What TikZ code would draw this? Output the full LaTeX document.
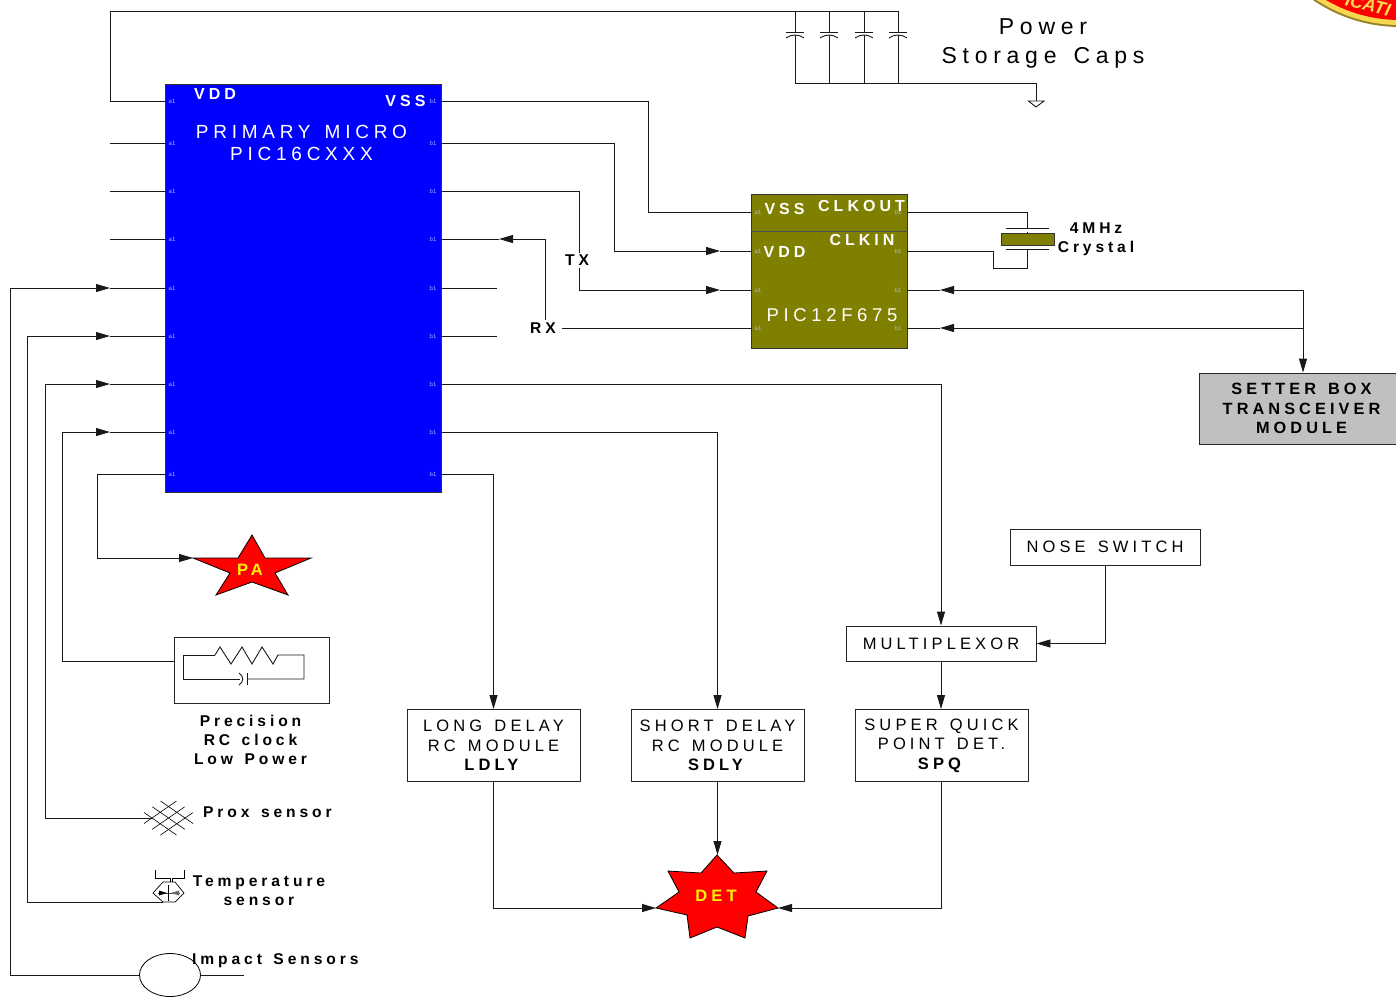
\documentclass[tikz,border=0pt]{standalone}
\usepackage{fontspec}
\setmainfont{Liberation Sans}
\newfontfamily\spacedfont[LetterSpace=25,WordSpace=1.4]{Liberation Sans}
\usetikzlibrary{positioning,arrows.meta,calc,shapes.geometric}
\definecolor{picolive}{RGB}{128,128,0}
\definecolor{setgray}{RGB}{192,192,192}
\definecolor{badgerim}{RGB}{150,130,40}
\definecolor{badgegold}{RGB}{245,215,80}

\begin{document}
\begin{tikzpicture}[
  x=1pt, y=-1pt,
  font=\spacedfont,
  >={Triangle[length=14pt,width=8pt]},
  wire/.style={draw=black!90, line width=0.9pt},
  arrow/.style={wire, ->},
  blockbox/.style={draw=black!85, line width=0.9pt, inner sep=0pt, align=center,
    font=\fontsize{16.5}{19.5}\selectfont\spacedfont, fill=white},
  chipbox/.style={draw=black!80, line width=0.9pt, inner sep=0pt},
  plain/.style={inner sep=0pt, align=center},
  biglabel/.style={plain, font=\fontsize{23}{29}\selectfont\spacedfont},
  chiplabel/.style={plain, text=white, font=\fontsize{19}{22}\selectfont\spacedfont},
  pinlabel/.style={plain, text=white, font=\fontsize{16}{19}\selectfont\spacedfont\bfseries},
  sidelabel/.style={plain, font=\fontsize{15.6}{19}\selectfont\spacedfont\bfseries},
  padlabel/.style={plain, text=white!70!blue, font=\fontsize{6}{7}\selectfont},
  starlabel/.style={plain, text=yellow, font=\fontsize{16.5}{19}\selectfont\spacedfont\bfseries},
  starshape/.style={draw=black, fill=red, line width=0.8pt, line join=miter}
]
\useasboundingbox (0,0) rectangle (1396,997);

% ---------- badge corner ----------
\begin{scope}
  \clip (1280,0) rectangle (1396,40);
  \fill[badgerim] (1400,-127) circle (154);
  \fill[badgegold] (1400,-127) circle (152);
  \fill[red] (1400,-127) circle (147);
  \node[plain, rotate=-14, text=badgegold, font=\fontsize{18}{18}\selectfont\bfseries\itshape] (badge) at (1368,5) {ICATI};
\end{scope}

% ---------- chips and blocks ----------
\node[chipbox, fill=blue, minimum width=276pt, minimum height=408pt] (micro) at (303.5,288) {};
\node[chipbox, fill=picolive, minimum width=156pt, minimum height=154pt] (pic) at (829.5,271) {};
\draw[draw=black!70, line width=0.7pt] (pic.west |- 0,231) -- (pic.east |- 0,231);

\node[blockbox, fill=setgray, minimum width=204pt, minimum height=71pt, font=\fontsize{16.3}{19.5}\selectfont\spacedfont\bfseries] (setter) at (1301.5,408.5)
  {SETTER BOX\\TRANSCEIVER\\MODULE};
\node[blockbox, minimum width=190pt, minimum height=36pt] (nose) at (1105,547) {NOSE SWITCH};
\node[blockbox, minimum width=190pt, minimum height=35pt] (mux) at (941,643.5) {MULTIPLEXOR};
\node[blockbox, minimum width=173pt, minimum height=72pt] (ldly) at (493.5,745.5)
  {LONG DELAY\\RC MODULE\\\textbf{LDLY}};
\node[blockbox, minimum width=173pt, minimum height=72pt] (sdly) at (717.5,745.5)
  {SHORT DELAY\\RC MODULE\\\textbf{SDLY}};
\node[blockbox, minimum width=173pt, minimum height=72pt] (spq) at (941.5,745.5)
  {SUPER QUICK\\POINT DET.\\\textbf{SPQ}};
\node[chipbox, fill=picolive, minimum width=53pt, minimum height=12pt] (xtal) at (1027.5,239) {};
\node[draw=black!85, line width=0.9pt, minimum width=155pt, minimum height=66pt, inner sep=0pt] (rcbox) at (252,670) {};
\node[draw=black, line width=0.8pt, ellipse, minimum width=61pt, minimum height=43pt, inner sep=0pt] (impact) at (170,975) {};

% ---------- pins ----------
\foreach \n/\y in {1/101,2/143,3/191,4/239,5/288,6/336,7/384,8/432,9/474} {
  \coordinate (a\n) at (166,\y);
  \coordinate (b\n) at (441,\y);
  \node[padlabel] (aname\n) at (172,\y) {a1};
  \node[padlabel] (bname\n) at (433,\y) {b1};
}
\foreach \n/\y in {1/212,2/251,3/290,4/328} {
  \coordinate (qa\n) at (752,\y);
  \coordinate (qb\n) at (907,\y);
  \node[padlabel] (qaname\n) at (758,\y) {a1};
  \node[padlabel] (qbname\n) at (898,\y) {b1};
}

% ---------- stars ----------
\draw[starshape] (252,535) -- (265,558) -- (311,558) -- (275,573) -- (288,595) -- (252,582)
  -- (216,595) -- (230,573) -- (193,558) -- (238,558) -- cycle;
\coordinate (patip) at (193,558);
\node[starlabel] (pa) at (250,570) {PA};
\draw[starshape] (717,855) -- (734,873) -- (767,871) -- (756,892) -- (778,908) -- (748,916)
  -- (745,938) -- (717,927) -- (690,938) -- (687,915) -- (656,908) -- (679,892) -- (668,871)
  -- (701,873) -- cycle;
\coordinate (dettop) at (717.5,855);
\coordinate (detleft) at (656,908);
\coordinate (detright) at (778,908);
\node[starlabel] (det) at (716,895.5) {DET};

% ---------- power rail and caps ----------
\coordinate (railend) at (898,11);
\coordinate (gnd) at (1036,101);
\draw[wire] (a1) -- (110,101) -- (110,11) -- (railend);
\foreach \x in {795,829,864,898} {
  \draw[wire] (\x,11) -- (\x,32);
  \draw[wire] (\x-9,32) -- (\x+9,32);
  \draw[wire] (\x-9,38) .. controls (\x-4,34) and (\x+4,34) .. (\x+9,38);
  \draw[wire] (\x,35) -- (\x,83);
}
\draw[wire] (795,83) -| (gnd);
\draw[wire] (1028.5,101) -- (1044,101) -- (1036,107) -- cycle;
\node[biglabel] (caps) at (1043,43.5) {Power\\Storage Caps};

% ---------- micro to pic ----------
\foreach \n in {2,3,4} { \coordinate (astub\n) at (110,0 |- a\n); \draw[wire] (a\n) -- (astub\n); }
\foreach \n in {5,6} { \coordinate (bstub\n) at (497,0 |- b\n); \draw[wire] (b\n) -- (bstub\n); }
\draw[wire] (b1) -- (648,101) -- (648,212) -- (qa1);
\coordinate (t2) at (720,251);
\coordinate (t3) at (720,290);
\coordinate (t4) at (499,239);
\draw[arrow] (b2) -- (614,143) -- (614,251) -- (t2);
\draw[wire] (t2) -- (qa2);
\draw[arrow] (b3) -- (579,191) -- (579,290) -- (t3);
\draw[wire] (t3) -- (qa3);
\draw[arrow] (qa4) -- (545,328) -- (545,239) -- (t4);
\draw[wire] (t4) -- (b4);
\node[sidelabel, fill=white, inner sep=2pt] (tx) at (577,260.5) {TX};
\node[sidelabel, fill=white, inner xsep=6pt, inner ysep=3pt] (rx) at (543,328.5) {RX};

% ---------- crystal ----------
\draw[wire] (qb1) -| (xtal.north);
\fill[white] (1000,226) rectangle (1056,232);
\draw[wire] (1027.5,212) -- (1027.5,228);
\draw[wire] (1006,228) -- (1049,228);
\draw[wire] (1006,249) -- (1049,249);
\draw[wire] (qb2) -- (993,251) -- (993,268) -- (1027.5,268) -- (1027.5,249);
\node[sidelabel] (xlabel) at (1096,239.5) {4MHz\\Crystal};

% ---------- setter box ----------
\coordinate (t5) at (940,290);
\coordinate (t6) at (940,328);
\coordinate (sbend) at (1303,290);
\draw[arrow] (sbend) -- (t5);
\draw[wire] (t5) -- (qb3);
\draw[arrow] (1303,328) -- (t6);
\draw[wire] (t6) -- (qb4);
\draw[arrow] (sbend) -- (setter.north -| sbend);

% ---------- delay paths ----------
\draw[arrow] (b7) -| (mux.north);
\draw[arrow] (b8) -| (sdly.north);
\draw[arrow] (b9) -| (ldly.north);
\draw[arrow] (nose.south) |- (mux.east);
\draw[arrow] (mux.south) -- (mux.south |- spq.north);
\draw[arrow] (ldly.south) |- (detleft);
\draw[arrow] (sdly.south) -- (dettop);
\draw[arrow] (spq.south) |- (detright);

% ---------- PA output ----------
\draw[arrow] (a9) -- (97,474) -- (97,558) -- (patip);

% ---------- sensor inputs ----------
\coordinate (t7) at (110,288);
\coordinate (t8) at (110,336);
\coordinate (t9) at (110,384);
\coordinate (t10) at (110,432);
\coordinate (impactin) at (10,975);
\coordinate (impactout) at (244,975);
\coordinate (tempin) at (163,902);
\coordinate (proxin) at (152,818);
\coordinate (rcin) at (174,661);
\draw[arrow] (impact.west) -- (impactin) -- (10,288) -- (t7);
\draw[wire] (t7) -- (a5);
\draw[wire] (impact.east) -- (impactout);
\draw[arrow] (tempin) -- (27,902) -- (27,336) -- (t8);
\draw[wire] (t8) -- (a6);
\draw[arrow] (proxin) -- (45,818) -- (45,384) -- (t9);
\draw[wire] (t9) -- (a7);
\draw[arrow] (rcin) -- (62,661) -- (62,432) -- (t10);
\draw[wire] (t10) -- (a8);

% RC clock symbol
\draw[wire] (215,655) -- (183,655) -- (183,679) -- (240,679);
\draw[wire] (215,655) -- (220,647) -- (231,664) -- (242,647) -- (252,664) -- (262,647) -- (273,664) -- (278,655) -- (304,655) -- (304,679) -- (247,679);
\draw[wire] (247,673) -- (247,685);
\draw[wire] (239,673) .. controls (244,676) and (244,682) .. (239,685);
\node[sidelabel] (rclabel) at (250.5,739.5) {Precision\\RC clock\\Low Power};

% prox hatch
\foreach \i in {0,1,2} {
  \draw[draw=black, line width=0.6pt] ($(152,818)!\i/2!(168.5,806.5)+(-8,-5.5)$) -- ($(168.5,829.5)!\i/2!(185,818)+(8,5.5)$);
  \draw[draw=black, line width=0.6pt] ($(152,818)!\i/2!(168.5,829.5)+(-8,5.5)$) -- ($(168.5,806.5)!\i/2!(185,818)+(8,-5.5)$);
}
\node[sidelabel, anchor=west] (proxlabel) at (203,812) {Prox sensor};

% temperature symbol
\draw[draw=black, line width=0.7pt] (155,870) -- (155,878) -- (170,878) -- (170,882);
\draw[draw=black, line width=0.7pt] (184,870) -- (184,878) -- (172,878) -- (172,882);
\draw[draw=black, line width=0.7pt] (153,893) -- (163,882) -- (175,882) -- (184,893) -- (175,902) -- (163,902) -- cycle;
\draw[draw=black!70, line width=0.8pt] (158,893) -- (180,893);
\draw[draw=black, line width=1.4pt] (168.5,885) -- (168.5,901);
\fill[black] (159,890.5) -- (167,893) -- (159,895.5) -- cycle;
\fill[black!60] (179,890.5) -- (171,893) -- (179,895.5) -- cycle;
\node[sidelabel] (templabel) at (259,890.5) {Temperature\\sensor};

\node[sidelabel, anchor=west] (impactlabel) at (192,960.5) {Impact Sensors};

% ---------- chip texts ----------
\node[pinlabel] (vdd) at (215,94) {VDD};
\node[pinlabel] (vss) at (405.5,100.5) {VSS};
\node[chiplabel] (mname) at (301.5,142.5) {PRIMARY MICRO\\PIC16CXXX};
\node[pinlabel] (qvss) at (784.5,208.5) {VSS};
\node[pinlabel] (clkout) at (861.5,205.5) {CLKOUT};
\node[pinlabel] (qvdd) at (784.5,251.5) {VDD};
\node[pinlabel] (clkin) at (862,239.5) {CLKIN};
\node[chiplabel, font=\fontsize{18.5}{22}\selectfont\spacedfont] (qname) at (832,315) {PIC12F675};
\end{tikzpicture}
\end{document}
